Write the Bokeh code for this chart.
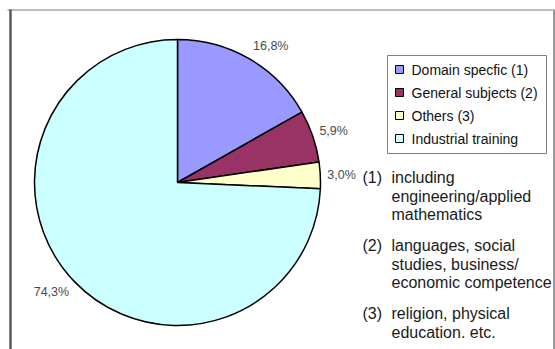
import math

from bokeh.core.properties import value
from bokeh.embed import file_html
from bokeh.models import ColumnDataSource, Range1d
from bokeh.plotting import figure
from bokeh.resources import INLINE

# ---- data -------------------------------------------------------------
categories = ["Domain specfic (1)", "General subjects (2)", "Others (3)", "Industrial training"]
shares = [16.8, 5.9, 3.0, 74.3]
share_labels = ["16,8%", "5,9%", "3,0%", "74,3%"]
colors = ["#9999FF", "#993366", "#FFFFCC", "#CCFFFF"]

note_marks = ["(1)", "(2)", "(3)"]
note_lines = [
    ["including", "engineering/applied", "mathematics"],
    ["languages, social", "studies, business/", "economic competence"],
    ["religion, physical", "education. etc."],
]

# ---- canvas (1 data unit = 1 px, y measured upward) -------------------
W, H = 555, 349
FONT = "Liberation Sans"


def Y(py):
    """Convert a top-down pixel row into the upward data coordinate."""
    return H - py


p = figure(width=W, height=H, x_range=Range1d(0, W), y_range=Range1d(0, H),
           x_axis_type=None, y_axis_type=None, output_backend="svg",
           toolbar_location=None, min_border=0)
p.grid.visible = False
p.outline_line_color = None
p.background_fill_color = "white"
p.border_fill_color = "white"

# ---- frame around the chart area --------------------------------------
p.segment(x0=[7], y0=[Y(9.5)], x1=[555], y1=[Y(9.5)], line_color="#bdbdbd", line_width=2)
p.segment(x0=[10], y0=[Y(9)], x1=[10], y1=[Y(349)], line_color="#5a5a5a", line_width=2.5)
p.segment(x0=[553.5], y0=[Y(10)], x1=[553.5], y1=[Y(349)], line_color="#777777", line_width=1.5)

# ---- pie --------------------------------------------------------------
cx, cy, r = 177, Y(182), 143
total = sum(shares)
starts, ends, cum = [], [], 0.0
for s in shares:
    starts.append(math.pi / 2 - 2 * math.pi * cum / total)
    cum += s
    ends.append(math.pi / 2 - 2 * math.pi * cum / total)

pie = ColumnDataSource(dict(start=starts, end=ends, color=colors, name=categories))
p.wedge(x=cx, y=cy, radius=r, start_angle="start", end_angle="end",
        direction="clock", fill_color="color", line_color="black",
        line_width=1.5, source=pie)

# value labels just outside each slice
lab_r = 150
lx, ly, lalign = [], [], []
for a0, a1 in zip(starts, ends):
    mid = (a0 + a1) / 2
    dx, dy = math.cos(mid), math.sin(mid)
    lx.append(cx + lab_r * dx)
    ly.append(cy + (lab_r + 8) * dy)
    lalign.append("left" if dx >= 0 else "right")
p.text(x=lx, y=ly, text=share_labels, text_align=lalign, text_baseline="middle",
       text_font=value(FONT), text_font_size="12.5px", text_color="#4a4a4a")

# ---- legend -----------------------------------------------------------
p.quad(left=[387], right=[546], top=[Y(55)], bottom=[Y(153)],
       fill_color="white", line_color="#808080", line_width=1)
row_y = [Y(69 + 23 * i) for i in range(len(categories))]
p.rect(x=[399] * len(categories), y=row_y, width=8, height=8,
       fill_color=colors, line_color="black", line_width=1)
p.text(x=[411] * len(categories), y=row_y, text=categories, text_align="left",
       text_baseline="middle", text_font=value(FONT), text_font_size="14px",
       text_color="#111111")

# ---- footnotes --------------------------------------------------------
mark_x, mark_y, body_x, body_y, body_t = [], [], [], [], []
py = 177
for mark, lines in zip(note_marks, note_lines):
    mark_x.append(362)
    mark_y.append(Y(py))
    for line in lines:
        body_x.append(391)
        body_y.append(Y(py))
        body_t.append(line)
        py += 18.5
    py += 12.5
p.text(x=mark_x, y=mark_y, text=note_marks, text_align="left", text_baseline="middle",
       text_font=value(FONT), text_font_size="16px", text_color="#1a1a1a")
p.text(x=body_x, y=body_y, text=body_t, text_align="left", text_baseline="middle",
       text_font=value(FONT), text_font_size="16px", text_color="#1a1a1a")

open("out.html", "w").write(file_html(p, INLINE))
